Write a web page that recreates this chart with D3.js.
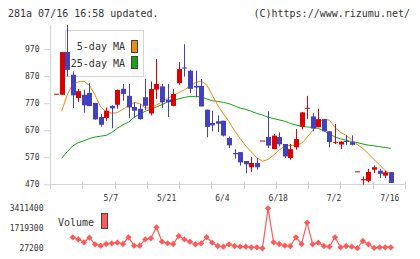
<!DOCTYPE html>
<html>
<head>
<meta charset="utf-8">
<script src="https://cdn.jsdelivr.net/npm/d3@7"></script>
<style>
body{margin:0;background:#fff;}
svg{display:block;}
text{font-family:"DejaVu Sans Mono",monospace;fill:#333;}
</style>
</head>
<body>
<div id="vis"></div>
<script>
// trading days, 2025
var dates = ["4/18","4/21","4/22","4/23","4/24","4/25","4/28","4/30","5/1","5/2",
  "5/7","5/8","5/9","5/12","5/13","5/14","5/15","5/16","5/19","5/20",
  "5/21","5/22","5/23","5/26","5/27","5/28","5/29","5/30","6/2","6/3",
  "6/4","6/5","6/6","6/9","6/10","6/11","6/12","6/13","6/16","6/17",
  "6/18","6/19","6/20","6/23","6/24","6/25","6/26","6/27","6/30","7/1",
  "7/2","7/3","7/4","7/7","7/8","7/9","7/10","7/11","7/14","7/15","7/16"];

var opens  = [805,801,959,875,789,801,808,771,719,715,760,764,823,797,756,749,792,732,820,832,
  783,760,844,902,890,834,834,746,697,703,705,641,586,589,556,533,549,632,645,600,
  645,619,567,607,683,751,721,681,711,666,624,617,630,626,518,485,483,524,520,502,515];
var highs  = [805,959,1059,887,823,820,844,771,730,754,762,820,841,841,773,767,860,850,933,841,
  841,822,922,988,893,890,859,746,742,725,705,647,600,589,556,571,567,632,740,656,
  662,619,619,674,737,797,733,749,711,666,693,629,651,651,518,499,527,539,527,520,515];
var lows   = [805,801,869,752,774,735,759,709,683,705,677,749,779,715,715,709,745,725,785,752,
  719,758,838,868,807,791,758,644,666,663,647,604,565,539,511,516,524,632,604,600,
  610,567,561,598,673,712,666,681,666,607,619,600,616,614,518,469,477,512,493,493,475];
var closes = [805,959,893,799,814,762,759,710,690,742,751,819,804,754,742,711,760,822,841,774,
  774,804,896,900,823,828,758,682,688,694,650,614,581,551,544,549,533,632,613,650,
  618,573,600,637,736,753,676,711,666,626,626,628,628,616,518,489,516,533,509,514,475];

var ma5 = [null,740,800,840,849,851,836,800,756,738,733,735,748,760,772,769,752,752,763,774,
  787,799,809,819,832,847,852,838,800,762,730,702,668,640,612,590,568,555,562,578,
  597,611,614,614,621,644,669,699,711,707,680,662,651,634,617,602,583,561,542,520,508];
var ma25 = [null,566,590,612,624,631,639,645,648,651,662,677,690,700,718,730,740,748,756,765,
  774,779,786,791,795,795,793,786,779,776,773,768,760,752,747,740,732,726,718,713,
  708,703,695,689,685,682,680,677,668,656,645,638,633,628,624,619,615,612,609,606,603];

var volumes = [null,null,null,958000,788600,534800,924000,365600,247200,391000,
  450200,501000,391000,957900,247200,247200,788600,873300,1803900,585600,
  450200,391000,1067800,788600,585600,365600,450200,957900,501000,221800,
  162600,365600,221800,162600,162600,111800,111800,27200,3411400,534800,
  391000,247200,221800,957900,391000,2193000,365600,501000,221800,162600,
  957900,111800,221800,162600,40000,644800,365600,60000,111800,111800,111800];

var priceTicks = [470,570,670,770,870,970];
var volTicks = [27200,1719300,3411400];
var dateLabels = ["5/7","5/21","6/4","6/18","7/2","7/16"];

var width = 420, height = 259;
var upColor = "#dd0000", downColor = "#4242bd";

var svg = d3.select("#vis").append("svg")
  .attr("width", width)
  .attr("height", height);

var xScale = d3.scalePoint().domain(dates).range([56, 390.8]);
var yScale = d3.scaleLinear().domain([470, 1059]).range([184.3, 25]);
var vScale = d3.scaleLinear().domain([27200, 3411400]).range([248.3, 208.3]);
var gridScale = d3.scaleLinear().domain([0, 11]).range([50, 405]);

// header
svg.append("text").attr("x", 8).attr("y", 16.5)
  .style("font-size", "10px").text("281a 07/16 16:58 updated.");
svg.append("text").attr("x", 410).attr("y", 16.5)
  .attr("text-anchor", "end")
  .style("font-size", "10px").text("(C)https://www.rizumu.net/");

// axes
svg.append("line").attr("x1", 50.5).attr("x2", 50.5).attr("y1", 25).attr("y2", 189)
  .style("stroke", "#d4d4d4");
svg.append("line").attr("x1", 50).attr("x2", 406).attr("y1", 184.5).attr("y2", 184.5)
  .style("stroke", "#d4d4d4");

svg.selectAll(".xtick").data(d3.range(1, 12)).enter()
  .append("line").attr("class", "xtick")
  .attr("x1", function(d){ return Math.round(gridScale(d)) + 0.5; })
  .attr("x2", function(d){ return Math.round(gridScale(d)) + 0.5; })
  .attr("y1", 181.5).attr("y2", 189)
  .style("stroke", "#d4d4d4");

var yAxis = svg.append("g")
  .attr("transform", "translate(50,0)")
  .call(d3.axisLeft(yScale).tickValues(priceTicks).tickSize(6).tickSizeOuter(0).tickPadding(4.5));
yAxis.select(".domain").remove();
yAxis.selectAll(".tick line").style("stroke", "#d4d4d4");
yAxis.selectAll(".tick text").style("font-size", "8px").style("font-family", "DejaVu Sans Mono").attr("fill", "#333");

svg.selectAll(".dlabel").data(dateLabels).enter()
  .append("text").attr("class", "dlabel")
  .attr("x", function(d){ return xScale(d) - 1; })
  .attr("y", 201)
  .attr("text-anchor", "middle")
  .style("font-size", "8px")
  .text(function(d){ return d; });

svg.selectAll(".vlabel").data(volTicks).enter()
  .append("text").attr("class", "vlabel")
  .attr("x", 43.5)
  .attr("y", function(d){ return vScale(d); })
  .attr("dy", "0.35em")
  .attr("text-anchor", "end")
  .style("font-size", "8px")
  .text(function(d){ return d; });

// legend
svg.append("rect").attr("x", 65.5).attr("y", 30.5).attr("width", 78).attr("height", 46)
  .style("fill", "#fff").style("stroke", "#d4d4d4");
svg.append("text").attr("x", 125).attr("y", 50).attr("text-anchor", "end")
  .style("font-size", "10px").text("5-day MA");
svg.append("text").attr("x", 125).attr("y", 67).attr("text-anchor", "end")
  .style("font-size", "10px").text("25-day MA");
svg.append("rect").attr("x", 131.5).attr("y", 40.5).attr("width", 6).attr("height", 12)
  .style("fill", "#ef8a0c").style("stroke", "#444");
svg.append("rect").attr("x", 131.5).attr("y", 56.5).attr("width", 6).attr("height", 12)
  .style("fill", "#12a612").style("stroke", "#444");

// moving averages
function maLine(values){
  return d3.line()
    .defined(function(d){ return d != null; })
    .x(function(d, i){ return xScale(dates[i]); })
    .y(function(d){ return yScale(d); })(values);
}
svg.append("path").attr("d", maLine(ma25))
  .style("fill", "none").style("stroke", "#12a612").style("stroke-width", 1);
svg.append("path").attr("d", maLine(ma5))
  .style("fill", "none").style("stroke", "#ef8a0c").style("stroke-width", 1);

// candles
var candles = dates.map(function(d, i){
  return {date: d, o: opens[i], h: highs[i], l: lows[i], c: closes[i]};
});
var cg = svg.selectAll(".candle").data(candles).enter()
  .append("g").attr("class", "candle");
cg.append("line")
  .attr("x1", function(d){ return Math.round(xScale(d.date)) + 0.5; })
  .attr("x2", function(d){ return Math.round(xScale(d.date)) + 0.5; })
  .attr("y1", function(d){ return yScale(d.h); })
  .attr("y2", function(d){ return yScale(d.l); })
  .style("stroke", function(d){ return d.c >= d.o ? upColor : downColor; })
  .style("stroke-width", 1);
cg.append("rect")
  .attr("x", function(d){ return Math.round(xScale(d.date)) - 2; })
  .attr("width", 5)
  .attr("y", function(d){ return yScale(Math.max(d.o, d.c)); })
  .attr("height", function(d){ return Math.max(1, Math.abs(yScale(d.o) - yScale(d.c))); })
  .style("fill", function(d){ return d.c >= d.o ? upColor : downColor; });

// volume
var volColor = "#ff5a5a";
var volData = volumes.map(function(v, i){ return {date: dates[i], v: v}; })
  .filter(function(d){ return d.v != null; });
svg.append("path")
  .attr("d", d3.line()
    .x(function(d){ return xScale(d.date); })
    .y(function(d){ return vScale(d.v); })(volData))
  .style("fill", "none").style("stroke", volColor).style("stroke-width", 1.2);
svg.selectAll(".vdot").data(volData).enter()
  .append("path").attr("class", "vdot")
  .attr("d", d3.symbol(d3.symbolSquare, 20))
  .attr("transform", function(d){
    return "translate(" + xScale(d.date) + "," + vScale(d.v) + ") rotate(45)";
  })
  .style("fill", volColor);

svg.append("text").attr("x", 58).attr("y", 225.5)
  .style("font-size", "10px").text("Volume");
svg.append("rect").attr("x", 101.5).attr("y", 213.5).attr("width", 6).attr("height", 15)
  .style("fill", volColor).style("stroke", "#444");
</script>
</body>
</html>
